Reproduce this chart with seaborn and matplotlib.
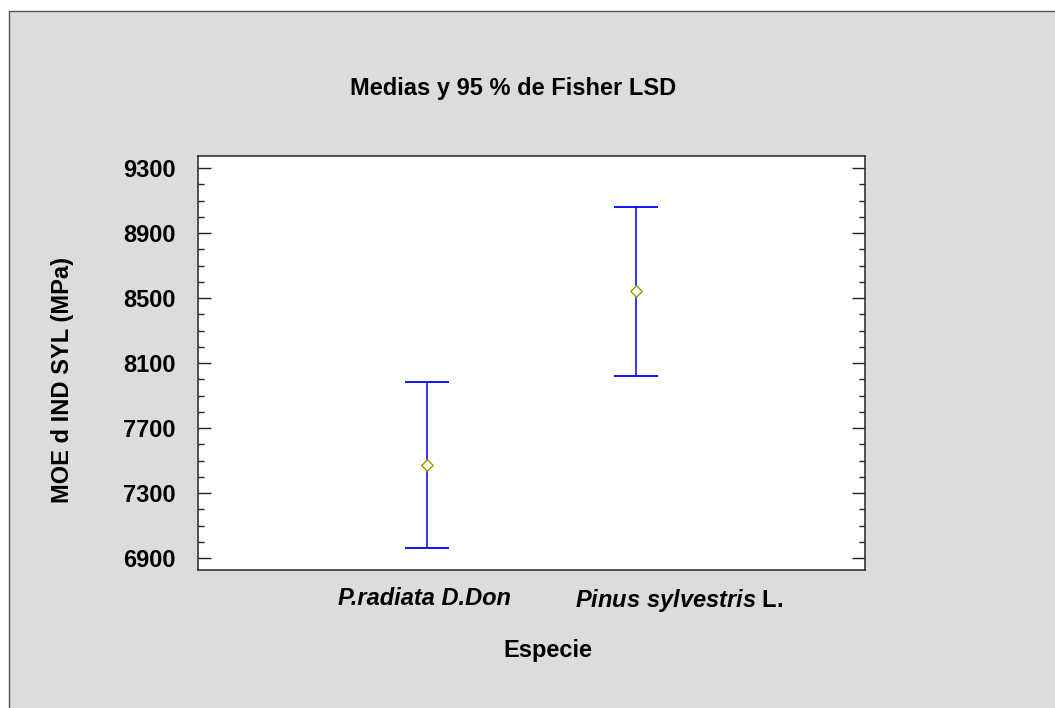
import numpy as np
import pandas as pd
import matplotlib.pyplot as plt
import seaborn as sns
from matplotlib.ticker import MultipleLocator
from matplotlib.patches import Rectangle

# datos
especies = ['P.radiata D.Don', 'Pinus sylvestris L.']
etiquetas = ['P.radiata D.Don', r'$\mathit{Pinus\ sylvestris}$ L.']
medias = [7472, 8544]
lsd_inf = [6963, 8023]
lsd_sup = [7982, 9062]
yticks = [6900, 7300, 7700, 8100, 8500, 8900, 9300]

sns.set_style('white')
plt.rcParams['font.family'] = ['Liberation Sans', 'DejaVu Sans']
plt.rcParams['font.weight'] = 'bold'
plt.rcParams['text.color'] = 'black'
plt.rcParams['ytick.labelcolor'] = 'black'
plt.rcParams['xtick.labelcolor'] = 'black'
plt.rcParams['mathtext.fontset'] = 'custom'
plt.rcParams['mathtext.it'] = 'Liberation Sans:italic:bold'
plt.rcParams['mathtext.rm'] = 'Liberation Sans:bold'
plt.rcParams['mathtext.bf'] = 'Liberation Sans:bold'

df = pd.DataFrame({'x': np.arange(len(especies)), 'media': medias,
                   'inf': lsd_inf, 'sup': lsd_sup, 'especie': especies})

fig = plt.figure(figsize=(10.55, 7.08), dpi=100)
fig.patch.set_facecolor('white')
# marco gris
fig.patches.append(Rectangle((9 / 1055, -0.05), 1.2, 1.05 - 11 / 708,
                             transform=fig.transFigure, facecolor='#dcdcdc',
                             edgecolor='#505050', lw=1, zorder=-10))

ax = fig.add_axes([0.1877, 0.1945, 0.6325, 0.5856])
ax.set_facecolor('white')

ax.errorbar(df['x'], df['media'],
            yerr=[df['media'] - df['inf'], df['sup'] - df['media']],
            fmt='none', ecolor='#0000ff', elinewidth=1.1, capsize=15.5,
            capthick=1.3, zorder=2)
sns.scatterplot(data=df, x='x', y='media', marker='D', s=34,
                facecolor='white', edgecolor='#999900', linewidth=1,
                ax=ax, zorder=3, legend=False)

ax.set_xlim(-1.0957, 2.0957)
ax.set_ylim(6826, 9376)
ax.set_yticks(yticks)
ax.yaxis.set_minor_locator(MultipleLocator(100))
ax.tick_params(axis='y', which='major', direction='in', length=9.4, width=1,
               left=True, right=True, labelsize=17, pad=16, color='#222222')
ax.tick_params(axis='y', which='minor', direction='in', length=4, width=1,
               left=True, right=True, color='#222222')

label_x = [-0.015, 1.205]
ax.set_xticks(label_x, etiquetas)
ax.tick_params(axis='x', length=0, labelsize=17, pad=12)
ax.get_xticklabels()[0].set_fontstyle('italic')
ax.set_xlabel('')
ax.set_ylabel('')

for s in ax.spines.values():
    s.set_linewidth(1.2)
    s.set_color('#333333')
    s.set_visible(True)

fig.text(513.5 / 1055, 1 - 88 / 708, 'Medias y 95 % de Fisher LSD',
         ha='center', va='center', fontsize=17, fontweight='bold')
fig.text(548 / 1055, 1 - 650 / 708, 'Especie',
         ha='center', va='center', fontsize=17, fontweight='bold')
fig.text(62 / 1055, 1 - 380 / 708, 'MOE d IND SYL (MPa)', rotation=90,
         ha='center', va='center', fontsize=17, fontweight='bold')

fig.savefig('out.png', dpi=100)
